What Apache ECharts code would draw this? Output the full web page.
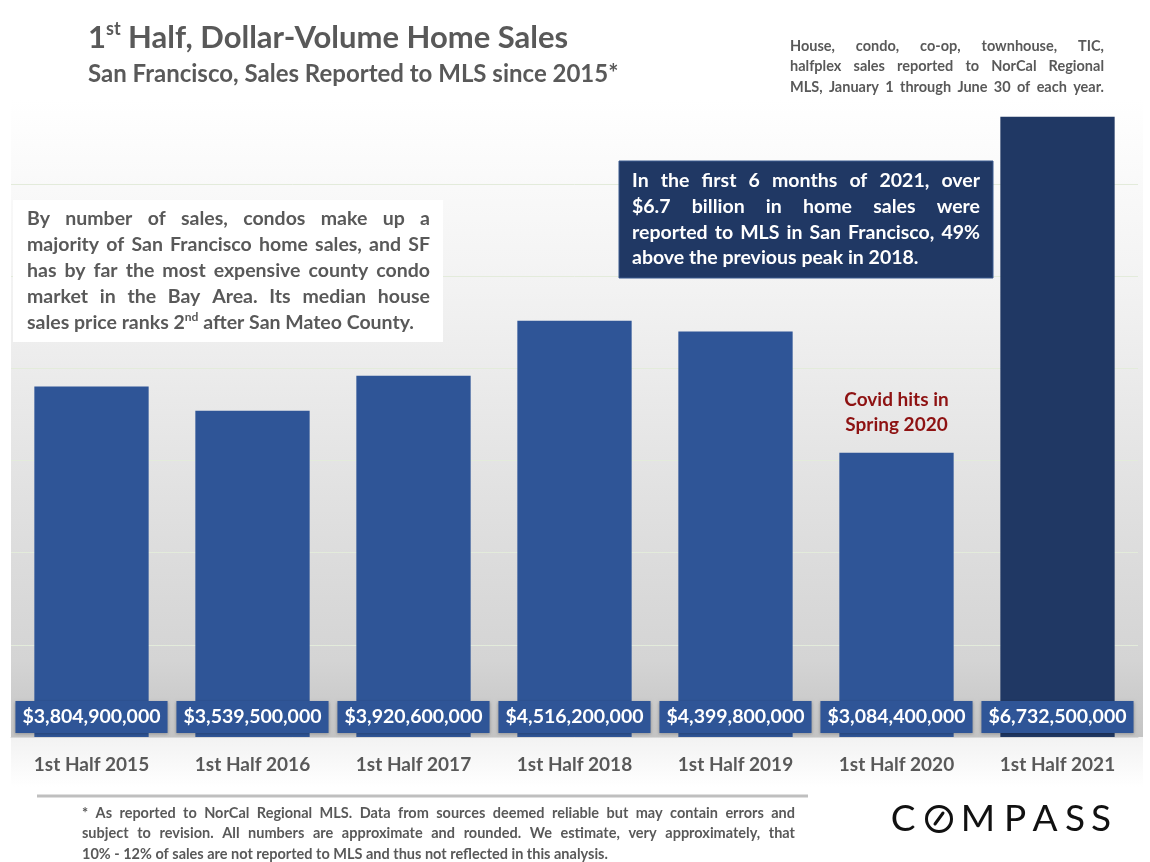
<!DOCTYPE html>
<html>
<head>
<meta charset="utf-8">
<script src="https://cdn.jsdelivr.net/npm/echarts@6/dist/echarts.min.js"></script>
<style>
html,body{margin:0;padding:0;background:#fff;}
#main{width:1150px;height:862px;}
</style>
</head>
<body>
<div id="main"></div>
<script>
const categories = ['1st Half 2015','1st Half 2016','1st Half 2017','1st Half 2018','1st Half 2019','1st Half 2020','1st Half 2021'];
const salesVolume = [3804900000, 3539500000, 3920600000, 4516200000, 4399800000, 3084400000, 6732500000];
const highlightIndex = 6;
const yMax = 7000000000;
const yInterval = 1000000000;

const titleMain = ['1', 'st', ' Half, Dollar-Volume Home Sales'];
const subtitle = 'San Francisco, Sales Reported to MLS since 2015*';
const noteLines = ['House, condo, co-op, townhouse, TIC,', 'halfplex sales reported to NorCal Regional', 'MLS, January 1 through June 30 of each year.'];
const leftBoxLines = ['By number of sales, condos make up a', 'majority of San Francisco home sales, and SF', 'has by far the most expensive county condo', 'market in the Bay Area. Its median house'];
const leftBoxLast = ['sales price ranks 2', 'nd', ' after San Mateo County.'];
const darkBoxLines = ['In the first 6 months of 2021, over', '$6.7 billion in home sales were', 'reported to MLS in San Francisco, 49%', 'above the previous peak in 2018.'];
const covidLines = ['Covid hits in', 'Spring 2020'];
const footLines = ['* As reported to NorCal Regional MLS. Data from sources deemed reliable but may contain errors and', 'subject to revision. All numbers are approximate and rounded. We estimate, very approximately, that', '10% - 12% of sales are not reported to MLS and thus not reflected in this analysis.'];

const FONT = 'Lato, "Open Sans", sans-serif';
const GREY = '#595959';
const BAR = '#2F5597';
const BAR_DARK = '#203864';

const cv = document.createElement('canvas');
const ctx = cv.getContext('2d');
function measure(t, size, weight) { ctx.font = (weight||'bold') + ' ' + size + 'px ' + FONT; return ctx.measureText(t).width; }
function fitSize(lines, width, base) {
  let m = 0; lines.forEach(l => { m = Math.max(m, measure(l, base)); });
  return m > width ? base * width / m : base;
}
function txt(text, x, y, size, color, align, weight) {
  return { type: 'text', z: 50, style: { text: text, x: x, y: y, font: (weight||'bold') + ' ' + size + 'px ' + FONT, fill: color, textAlign: align||'left', textVerticalAlign: 'middle', align: align||'left', verticalAlign: 'middle' } };
}
function justify(line, x, y, width, size, color) {
  const words = line.split(' ');
  const ws = words.map(w => measure(w, size));
  const total = ws.reduce((a,b)=>a+b,0);
  const gap = words.length > 1 ? (width - total) / (words.length - 1) : 0;
  const els = []; let cx = x;
  words.forEach((w,i) => { els.push(txt(w, cx, y, size, color)); cx += ws[i] + gap; });
  return els;
}
function richStyle(size, supSize, lh, supLh) {
  return {
    a: { fontSize: size, fontWeight: 'bold', fontFamily: FONT, fill: GREY, color: GREY, lineHeight: lh },
    s: { fontSize: supSize, fontWeight: 'bold', fontFamily: FONT, fill: GREY, color: GREY, lineHeight: supLh, verticalAlign: 'top' }
  };
}

const chart = echarts.init(document.getElementById('main'), null, { renderer: 'canvas' });

const graphics = [];
// plot background gradient
graphics.push({ type: 'rect', z: -10, silent: true, shape: { x: 11, y: 100, width: 1132, height: 637 },
  style: { fill: new echarts.graphic.LinearGradient(0,0,0,1,[{offset:0,color:'#ffffff'},{offset:0.3,color:'#f2f2f2'},{offset:0.7,color:'#dddddd'},{offset:0.88,color:'#d4d4d4'},{offset:1,color:'#c4c4c4'}]) } });
graphics.push({ type: 'rect', z: -10, silent: true, shape: { x: 11, y: 737, width: 1132, height: 50 },
  style: { fill: new echarts.graphic.LinearGradient(0,0,0,1,[{offset:0,color:'#f2f2f2'},{offset:1,color:'#ffffff'}]) } });

// title
graphics.push({ type: 'text', z: 50, style: { x: 88, y: 38, text: '{a|' + titleMain[0] + '}{s|' + titleMain[1] + '}{a|' + titleMain[2] + '}', fill: GREY, verticalAlign: 'middle', textVerticalAlign: 'middle',
  rich: richStyle(31, 18, 36, 24) } });
graphics.push(txt(subtitle, 88, 74, 24, GREY));

// top-right note
const noteSize = fitSize(noteLines, 314, 14.5);
noteLines.forEach((l,i) => { justify(l, 790, 46 + i*20.5, 314, noteSize, GREY).forEach(e => graphics.push(e)); });

// left white box
graphics.push({ type: 'rect', z: 40, shape: { x: 13, y: 200, width: 430, height: 142 }, style: { fill: '#ffffff' } });
const lbSize = fitSize(leftBoxLines, 403, 19.5);
leftBoxLines.forEach((l,i) => { justify(l, 27, 219 + i*26, 403, lbSize, GREY).forEach(e => graphics.push(e)); });
graphics.push({ type: 'text', z: 50, style: { x: 27, y: 323, text: '{a|' + leftBoxLast[0] + '}{s|' + leftBoxLast[1] + '}{a|' + leftBoxLast[2] + '}', fill: GREY, verticalAlign: 'middle', textVerticalAlign: 'middle',
  rich: richStyle(lbSize, lbSize*0.62, 24, 16) } });

// dark box
graphics.push({ type: 'rect', z: 40, shape: { x: 619, y: 161, width: 374, height: 117 }, style: { fill: BAR_DARK, stroke: '#3b5a8f', lineWidth: 1 } });
const dbSize = fitSize(darkBoxLines.slice(0,3), 348, 19.5);
darkBoxLines.forEach((l,i) => {
  if (i < darkBoxLines.length - 1) justify(l, 632, 181 + i*25.7, 348, dbSize, '#ffffff').forEach(e => graphics.push(e));
  else graphics.push(txt(l, 632, 181 + i*25.7, dbSize, '#ffffff'));
});

// footer rule and footnote
graphics.push({ type: 'line', z: 40, shape: { x1: 37, y1: 796, x2: 808, y2: 796 }, style: { stroke: '#bfbfbf', lineWidth: 3 } });
const fnSize = fitSize(footLines.slice(0,2), 713, 14.5);
footLines.forEach((l,i) => {
  if (i < footLines.length - 1) justify(l, 82, 813 + i*20.5, 713, fnSize, GREY).forEach(e => graphics.push(e));
  else graphics.push(txt(l, 82, 813 + i*20.5, fnSize, GREY));
});

// COMPASS logo
const logoLetters = [['C',903],['M',978],['P',1015],['A',1045],['S',1075],['S',1101]];
logoLetters.forEach(p => graphics.push(txt(p[0], p[1], 819, 37, '#111111', 'center', 'normal')));
graphics.push({ type: 'circle', z: 50, shape: { cx: 939, cy: 819, r: 12.5 }, style: { fill: 'none', stroke: '#111111', lineWidth: 3 } });
graphics.push({ type: 'line', z: 50, shape: { x1: 935, y1: 824, x2: 943, y2: 813 }, style: { stroke: '#111111', lineWidth: 3, lineCap: 'round' } });

const option = {
  backgroundColor: '#ffffff',
  animation: false,
  grid: { left: 11, right: 12, top: 92, bottom: 125, containLabel: false },
  xAxis: {
    type: 'category', data: categories,
    axisLine: { show: true, lineStyle: { color: '#d9d9d9', width: 1 } },
    axisTick: { show: false },
    axisLabel: { margin: 18, fontSize: 19, fontWeight: 'bold', color: GREY, fontFamily: FONT }
  },
  yAxis: {
    type: 'value', min: 0, max: yMax, interval: yInterval,
    axisLabel: { show: false }, axisLine: { show: false }, axisTick: { show: false },
    splitLine: { show: true, showMaxLine: false, lineStyle: { color: '#e3ebdb', width: 1 } }
  },
  series: [{
    type: 'bar',
    barCategoryGap: '29%',
    data: salesVolume.map((v,i) => ({ value: v, itemStyle: { color: i === highlightIndex ? BAR_DARK : BAR } })),
    itemStyle: { color: BAR },
    label: {
      show: true, position: 'insideBottom', distance: 4,
      formatter: p => '$' + p.value.toLocaleString('en-US'),
      color: '#ffffff', fontSize: 19.5, fontWeight: 'bold', fontFamily: FONT,
      backgroundColor: BAR, padding: [5, 7, 5, 7], lineHeight: 22,
      shadowColor: 'rgba(0,0,0,0.25)', shadowBlur: 3, shadowOffsetY: 1
    }
  }],
  graphic: { elements: graphics }
};
chart.setOption(option);

// Covid annotation anchored to the 2020 bar
const covidIdx = 5;
const top2020 = chart.convertToPixel({ gridIndex: 0 }, [covidIdx, salesVolume[covidIdx]]);
const covidEls = covidLines.map((l,i) => txt(l, top2020[0], top2020[1] - 53 + i*25.5, 19, '#8E1212', 'center'));
chart.setOption({ graphic: { elements: graphics.concat(covidEls) } });
</script>
</body>
</html>
